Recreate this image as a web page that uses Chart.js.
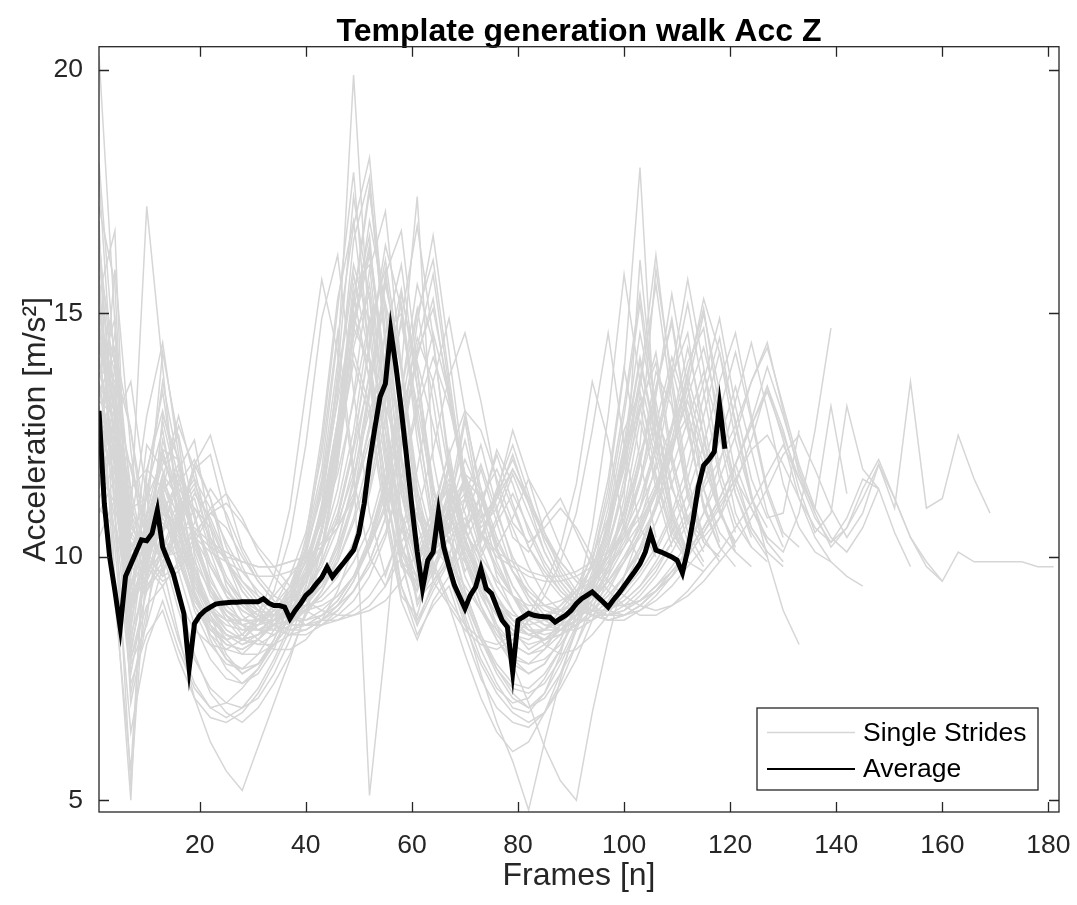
<!DOCTYPE html>
<html>
<head>
<meta charset="utf-8">
<script src="https://cdn.jsdelivr.net/npm/chart.js@4.4.1/dist/chart.umd.min.js"></script>
<style>
  html, body { margin: 0; padding: 0; background: #fff; }
  #wrap { width: 1077px; height: 905px; }
</style>
</head>
<body>
<div id="wrap"><canvas id="accChart" width="1077" height="905"></canvas></div>
<script>
const strideFrames = [1, 4, 7, 10, 13, 16, 19, 22, 25, 28, 31, 34, 37, 40, 43, 46, 49, 52, 55, 58,
  61, 64, 67, 70, 73, 76, 79, 82, 85, 88, 91, 94, 97, 100, 103, 106, 109, 112, 115, 118,
  121, 124, 127, 130, 133, 136, 139, 142, 145, 148, 151, 154, 157, 160, 163, 166, 169, 172, 175, 178, 181];

// single strides, acceleration [m/s²] at strideFrames
const stride01 = [20.3, 14.8, 8.2, 10.6, 12.2, 10.9, 9.6, 8.9, 8.4, 8.2, 8.4, 8.8, 9.2, 9.7, 10.5, 12.0, 14.6, 16.9, 15.2, 12.1, 10.0, 10.8, 12.2, 10.3, 9.5, 9.0, 8.5, 8.1, 8.3, 8.6, 9.0, 9.3, 9.8, 10.5, 11.9, 13.8, 13.1, 11.2, 10.3, 10.0];
const stride02 = [16.5, 13.2, 9.6, 12.3, 11.8, 10.2, 9.1, 8.6, 8.3, 8.4, 8.7, 9.0, 9.4, 10.1, 11.3, 13.5, 15.8, 14.1, 11.9, 10.2, 9.4, 10.9, 11.6, 10.1, 9.4, 8.8, 8.4, 8.3, 8.5, 8.9, 9.3, 9.8, 10.6, 12.2, 14.1, 12.5, 10.8, 10.1];
const stride03 = [13.2, 12.9, 8.9, 9.8, 10.9, 11.6, 10.4, 9.3, 8.7, 8.3, 8.2, 8.4, 8.7, 9.0, 9.4, 10.1, 11.2, 13.3, 15.6, 14.0, 11.3, 9.6, 10.7, 11.5, 10.2, 9.4, 8.9, 8.5, 8.3, 8.4, 8.6, 8.9, 9.2, 9.6, 10.2, 11.1, 12.7, 14.3, 12.8, 11.0, 10.1, 9.8];
const stride04 = [15.8, 11.0, 5.3, 9.9, 12.8, 11.4, 9.8, 8.8, 8.0, 7.6, 7.8, 8.2, 8.8, 9.6, 11.0, 13.8, 17.4, 15.3, 12.0, 9.9, 9.3, 10.4, 10.8, 9.6, 8.9, 8.3, 7.9, 7.8, 8.1, 8.6, 9.2, 10.1, 11.6, 13.9, 12.0, 10.4];
const stride05 = [12.4, 14.6, 11.2, 9.6, 10.5, 11.8, 12.4, 10.6, 9.4, 8.8, 8.5, 8.4, 8.6, 8.9, 9.2, 9.6, 10.3, 11.4, 13.2, 15.4, 13.8, 11.5, 9.8, 10.6, 11.8, 10.7, 9.7, 9.1, 8.7, 8.5, 8.5, 8.7, 9.0, 9.3, 9.7, 10.2, 10.9, 11.9, 13.3, 14.5, 12.7, 11.2, 10.3, 9.9];
const stride06 = [14.1, 12.0, 7.2, 8.9, 10.4, 9.2, 8.0, 7.2, 6.8, 6.6, 6.9, 7.4, 8.0, 8.8, 10.0, 11.9, 14.9, 16.3, 13.6, 10.9, 9.1, 9.8, 10.6, 9.3, 8.4, 7.7, 7.2, 6.9, 7.1, 7.6, 8.2, 8.9, 9.8, 11.0, 12.8, 11.6, 10.4, 9.9, 9.7];
const stride07 = [17.2, 15.6, 8.7, 10.1, 11.3, 10.1, 9.0, 8.4, 8.1, 8.0, 8.3, 8.7, 9.3, 10.2, 11.6, 14.0, 19.9, 14.5, 12.3, 10.8, 9.7, 10.3, 11.4, 10.6, 9.8, 9.2, 8.7, 8.4, 8.3, 8.5, 8.8, 9.2, 9.7, 10.3, 11.0, 12.4, 13.9, 12.6, 11.1, 10.2, 9.8];
const stride08 = [13.6, 11.8, 7.8, 8.6, 9.8, 8.4, 7.1, 6.2, 5.6, 5.2, 6.1, 7.0, 7.9, 8.9, 10.2, 12.1, 14.2, 13.1, 11.0, 9.4, 8.6, 9.5, 10.1, 9.2, 8.3, 7.6, 7.1, 6.9, 7.2, 7.8, 8.5, 9.3, 10.4, 12.0, 13.1, 11.4, 10.2];
const stride09 = [11.8, 13.9, 12.6, 10.1, 9.6, 10.8, 11.9, 11.2, 9.9, 9.1, 8.7, 8.5, 8.4, 8.5, 8.7, 9.0, 9.5, 10.3, 11.5, 13.4, 15.1, 13.2, 11.0, 9.7, 10.4, 11.3, 10.6, 9.8, 9.2, 8.9, 8.7, 8.7, 8.9, 9.2, 9.6, 10.1, 10.8, 11.6, 12.9, 14.2, 12.8, 11.3, 10.0, 8.9, 8.2];
const stride10 = [15.1, 13.0, 9.3, 11.4, 12.6, 10.7, 9.4, 8.7, 8.4, 8.3, 8.6, 9.0, 9.6, 10.5, 12.1, 14.6, 11.8, 5.1, 8.2, 11.6, 10.7, 9.5, 9.9, 9.4, 8.9, 8.5, 8.2, 8.0, 8.2, 8.5, 8.9, 9.4, 10.0, 10.9, 12.3, 15.9, 13.7, 11.6, 10.4, 9.9];
const stride11 = [12.9, 12.1, 10.3, 9.4, 9.9, 10.6, 11.3, 10.8, 10.0, 9.3, 8.9, 8.6, 8.4, 8.4, 8.6, 8.9, 9.3, 9.9, 10.8, 12.2, 14.3, 15.8, 13.5, 11.2, 10.1, 10.8, 11.7, 10.9, 10.1, 9.5, 9.1, 8.8, 8.7, 8.8, 9.0, 9.3, 9.6, 10.0, 10.5, 11.1, 11.6, 11.0, 10.4, 10.1, 10.9, 12.6, 14.7];
const stride12 = [14.7, 12.4, 8.1, 9.7, 11.2, 10.0, 8.9, 8.2, 7.8, 7.7, 8.0, 8.5, 9.2, 10.1, 11.4, 13.2, 15.0, 13.7, 11.6, 10.2, 9.6, 10.2, 9.8, 8.7, 7.6, 6.6, 5.8, 4.8, 6.2, 7.5, 8.6, 9.5, 10.8, 12.6, 13.4, 11.7, 10.5, 10.0];
const stride13 = [13.9, 13.5, 10.2, 10.8, 11.9, 12.5, 10.9, 9.6, 8.9, 8.6, 8.5, 8.6, 8.9, 9.3, 9.8, 10.6, 11.9, 13.8, 15.2, 13.9, 17.4, 12.0, 10.3, 9.9, 10.5, 9.8, 9.2, 8.8, 8.6, 8.6, 8.8, 9.1, 9.5, 10.0, 10.6, 11.4, 12.6, 14.0, 14.7, 12.5, 10.9, 10.2, 9.9];
const stride14 = [16.2, 12.7, 8.5, 10.9, 11.1, 9.7, 8.6, 7.9, 7.5, 7.4, 7.7, 8.3, 9.1, 10.4, 12.5, 15.3, 16.9, 14.1, 11.4, 9.8, 9.5, 10.7, 11.9, 10.4, 9.3, 8.5, 7.9, 7.6, 7.8, 8.3, 9.0, 9.9, 11.4, 13.8, 18.0, 12.3];
const stride15 = [12.1, 12.8, 11.4, 9.8, 9.4, 9.9, 10.7, 11.4, 10.9, 10.1, 9.5, 9.1, 8.8, 8.6, 8.6, 8.7, 8.9, 9.2, 9.7, 10.5, 11.8, 13.6, 14.9, 13.0, 11.2, 10.2, 10.8, 11.6, 11.0, 10.2, 9.6, 9.2, 8.9, 8.8, 8.9, 9.1, 9.4, 9.8, 10.2, 10.8, 11.5, 12.4, 13.5, 12.6, 11.4, 10.5, 10.9, 13.1, 11.8, 11.4];
const stride16 = [13.0, 12.2, 10.9, 10.0, 9.6, 9.8, 10.4, 11.0, 11.3, 10.8, 10.1, 9.6, 9.2, 8.9, 8.7, 8.7, 8.8, 9.0, 9.4, 10.0, 10.9, 12.2, 13.7, 14.6, 13.2, 11.5, 10.4, 10.1, 10.8, 11.2, 10.5, 9.8, 9.3, 9.0, 8.8, 8.8, 9.0, 9.3, 9.7, 10.1, 10.6, 11.1, 11.7, 12.3, 11.6, 10.8, 10.3, 10.6, 11.2, 11.9, 11.0, 13.6, 11.0, 11.2, 12.5, 11.6, 10.9];
const stride17 = [12.6, 11.7, 10.6, 10.2, 10.0, 10.1, 10.5, 10.9, 11.1, 10.7, 10.2, 9.8, 9.4, 9.1, 8.9, 8.8, 8.8, 8.9, 9.1, 9.5, 10.1, 11.0, 12.1, 13.0, 12.6, 11.6, 10.7, 10.3, 10.6, 11.0, 10.6, 10.0, 9.5, 9.2, 9.0, 8.9, 9.0, 9.2, 9.5, 9.9, 10.3, 10.8, 11.4, 12.1, 12.5, 11.8, 11.0, 10.4, 10.9, 11.9, 11.2, 10.4, 9.9, 9.5, 10.1, 9.9, 9.9, 9.9, 9.9, 9.8, 9.8];
const stride18 = [14.4, 12.6, 9.8, 9.5, 10.2, 11.0, 11.5, 10.7, 9.9, 9.3, 8.9, 8.6, 8.5, 8.5, 8.7, 9.0, 9.5, 10.2, 11.3, 12.8, 14.5, 13.6, 11.7, 10.5, 10.0, 10.7, 11.3, 10.6, 9.9, 9.4, 9.0, 8.8, 8.7, 8.8, 9.0, 9.3, 9.7, 10.1, 10.6, 11.2, 11.9, 12.8, 13.9, 12.9, 11.8, 10.9, 10.2, 10.6, 11.4, 12.0, 11.2, 10.4, 9.8, 9.5];
const stride19 = [11.5, 12.3, 11.9, 10.6, 9.9, 10.3, 11.0, 10.6, 9.9, 9.4, 9.0, 8.7, 8.6, 8.6, 8.8, 9.1, 9.6, 10.4, 11.6, 13.1, 14.0, 12.7, 11.3, 10.6, 11.2, 11.8, 11.0, 10.2, 9.7, 9.3, 9.0, 8.9, 8.9, 9.1, 9.4, 9.8, 10.3, 10.8, 11.4, 12.0, 12.7, 13.6, 14.3, 13.1, 11.9, 11.0, 10.4, 10.1, 10.6, 11.4, 10.5, 9.8];
const stride20 = [10.9, 11.6, 9.1, 9.9, 10.8, 10.2, 9.4, 8.9, 8.7, 8.7, 8.9, 9.2, 9.6, 10.0, 10.7, 11.7, 13.2, 14.9, 13.4, 11.5, 10.3, 10.9, 11.4, 10.3, 9.6, 9.1, 8.8, 8.7, 8.8, 9.0, 9.3, 9.6, 10.0, 10.5, 11.2, 12.3, 13.7, 14.6, 12.4, 11.0];
const stride21 = [16.9, 9.4, 5.0, 11.7, 13.4, 11.1, 9.3, 8.3, 7.7, 7.4, 7.6, 8.1, 8.9, 10.2, 12.3, 15.1, 17.9, 14.0, 11.0, 9.2, 8.8, 10.0, 10.4, 9.0, 8.1, 7.4, 6.9, 6.8, 7.2, 8.0, 9.1, 10.6, 12.9, 15.8, 13.6];
const stride22 = [13.4, 14.1, 10.4, 11.2, 13.6, 11.9, 10.1, 9.2, 8.8, 8.6, 8.7, 8.9, 9.2, 9.6, 10.1, 10.9, 12.3, 14.4, 16.1, 13.8, 11.4, 10.0, 11.1, 12.4, 11.0, 9.9, 9.2, 8.7, 8.5, 8.5, 8.7, 9.0, 9.4, 9.9, 10.5, 11.3, 12.4, 13.8, 15.1, 13.0, 11.3, 10.4];
const stride23 = [12.2, 10.8, 7.9, 9.0, 9.4, 8.3, 7.4, 6.9, 6.7, 6.9, 7.3, 7.9, 8.6, 9.4, 10.5, 12.2, 14.0, 12.9, 10.8, 9.1, 8.3, 9.1, 9.6, 8.6, 7.8, 7.2, 6.8, 6.6, 6.8, 7.3, 7.9, 8.7, 9.6, 10.7, 12.1, 13.2, 11.5, 10.3, 9.8];
const stride24 = [14.9, 13.8, 11.0, 10.3, 11.4, 12.7, 11.8, 10.4, 9.6, 9.1, 8.8, 8.6, 8.5, 8.6, 8.8, 9.1, 9.6, 10.3, 11.4, 13.0, 15.0, 16.1, 13.7, 11.4, 10.3, 11.2, 12.1, 11.1, 10.1, 9.5, 9.1, 8.9, 8.8, 8.9, 9.1, 9.4, 9.8, 10.3, 10.9, 11.6, 12.5, 13.6, 14.4, 13.0, 11.7, 10.9];
const stride25 = [14.3, 13.0, 10.8, 17.2, 13.9, 10.6, 9.2, 8.5, 8.2, 8.1, 8.3, 8.6, 9.0, 9.6, 10.6, 12.3, 14.8, 16.4, 13.9, 11.3, 9.9, 10.4, 11.8, 10.9, 9.9, 9.2, 8.7, 8.4, 8.3, 8.4, 8.6, 8.9, 9.3, 9.9, 10.7, 11.9, 13.6, 15.2, 13.4, 11.6, 10.5];
const stride26 = [15.4, 16.7, 8.4, 9.5, 10.9, 10.3, 9.3, 8.6, 8.2, 8.1, 8.3, 8.7, 9.2, 9.9, 11.0, 12.8, 15.3, 17.6, 14.4, 11.6, 10.0, 10.5, 11.2, 10.0, 9.2, 8.6, 8.2, 8.0, 8.1, 8.4, 8.9, 9.5, 10.3, 11.4, 13.0, 14.2, 12.1, 10.7];
const stride27 = [12.8, 12.0, 9.4, 10.4, 11.3, 11.9, 10.5, 9.4, 8.8, 8.4, 8.2, 8.2, 8.4, 8.8, 9.3, 10.0, 11.1, 12.7, 14.6, 16.0, 13.5, 11.0, 9.6, 10.2, 9.5, 8.6, 7.8, 7.0, 6.1, 5.4, 5.0, 6.8, 8.3, 9.6, 10.5, 11.3, 12.2, 13.3, 14.3, 12.9, 11.5, 10.6, 10.1, 9.8];
const stride28 = [13.7, 14.9, 9.9, 10.2, 12.4, 11.2, 9.8, 9.0, 8.5, 8.3, 8.4, 8.8, 9.4, 10.3, 11.8, 14.5, 16.8, 18.2, 14.6, 11.5, 9.7, 10.1, 11.0, 10.0, 9.3, 8.8, 8.4, 8.2, 8.3, 8.6, 9.0, 9.5, 10.1, 10.9, 12.0, 13.4, 14.9, 12.8, 11.0, 10.2];
const stride29 = [11.2, 11.9, 10.7, 9.9, 9.5, 9.7, 10.3, 10.9, 10.6, 10.0, 9.5, 9.1, 8.8, 8.6, 8.6, 8.8, 9.1, 9.6, 10.4, 11.6, 13.0, 14.1, 13.1, 11.7, 10.7, 11.3, 12.0, 11.2, 10.4, 9.8, 9.3, 9.0, 8.8, 8.8, 9.0, 9.3, 9.7, 10.1, 10.6, 11.2, 11.9, 12.7, 13.5, 12.4, 11.2, 10.4, 9.9, 9.6, 9.4];
const stride30 = [12.0, 15.9, 12.2, 9.7, 10.1, 10.9, 11.4, 10.3, 9.5, 9.0, 8.7, 8.6, 8.7, 9.0, 9.5, 10.3, 11.6, 13.5, 15.7, 13.9, 11.6, 10.3, 10.9, 12.0, 11.2, 10.1, 9.4, 8.9, 8.6, 8.5, 8.7, 9.1, 9.8, 11.2, 16.1, 12.8, 11.4, 10.7, 10.4, 10.8, 11.9, 11.0, 10.3];
const stride31 = [11.4, 12.8, 13.6, 11.2, 9.7, 10.6, 11.8, 12.1, 10.8, 9.8, 9.2, 8.9, 8.7, 8.7, 8.9, 9.2, 9.6, 10.2, 11.0, 12.3, 14.1, 15.3, 13.2, 11.4, 10.4, 11.4, 12.3, 11.3, 10.3, 9.6, 9.2, 8.9, 8.8, 8.9, 9.2, 9.6, 10.1, 10.7, 11.5, 12.4, 13.5, 12.2, 10.9, 10.2];
const stride32 = [15.5, 10.8, 8.8, 11.5, 10.3, 9.1, 8.5, 8.2, 8.1, 8.3, 8.7, 9.3, 10.4, 12.3, 14.9, 16.2, 13.4, 10.9, 9.6, 10.6, 11.0, 9.8, 9.0, 8.5, 8.2, 8.1, 8.3, 8.7, 9.2, 9.9, 10.9, 12.6, 14.6, 12.3, 10.6, 10.0];
const stride33 = [12.9, 11.3, 9.9, 10.5, 11.7, 11.2, 10.5, 10.2, 10.0, 9.9, 9.8, 9.8, 9.9, 10.0, 10.2, 10.6, 11.3, 12.6, 14.0, 12.8, 11.0, 10.1, 10.5, 10.8, 10.0, 9.5, 9.2, 9.0, 9.0, 9.1, 9.3, 9.5, 9.8, 10.2, 10.7, 11.4, 12.3, 13.2, 12.1, 10.9, 10.3];
const stride34 = [13.1, 10.2, 6.4, 8.2, 9.1, 8.1, 7.3, 6.9, 7.0, 7.3, 7.7, 8.2, 8.8, 9.5, 10.6, 12.5, 15.1, 16.6, 13.1, 10.0, 8.6, 9.3, 9.9, 8.8, 7.9, 7.3, 7.0, 7.1, 7.5, 8.1, 8.8, 9.6, 10.7, 12.3, 14.6, 12.9, 10.9, 10.0];
const stride35 = [18.1, 13.9, 7.6, 9.4, 12.9, 12.0, 10.3, 9.3, 8.8, 8.5, 8.5, 8.7, 9.0, 9.5, 10.2, 11.4, 13.3, 15.9, 17.1, 13.9, 11.0, 9.6, 10.9, 12.8, 10.9, 9.6, 8.9, 8.5, 8.4, 8.5, 8.8, 9.2, 9.7, 10.4, 11.5, 13.3, 15.4, 13.5, 11.4, 10.3];
const stride36 = [12.6, 13.3, 11.8, 10.4, 10.0, 10.7, 11.9, 12.5, 11.3, 10.2, 9.6, 9.2, 9.0, 9.0, 9.1, 9.4, 9.9, 10.6, 11.8, 13.4, 15.6, 14.4, 12.0, 10.6, 11.0, 12.2, 11.5, 10.5, 9.8, 9.3, 9.0, 8.9, 8.9, 9.1, 9.4, 9.9, 10.5, 11.3, 12.3, 13.6, 14.6, 12.9, 11.4, 10.5, 10.2];
const stride37 = [14.0, 12.2, 8.6, 10.3, 12.1, 11.0, 9.7, 8.9, 8.5, 8.3, 8.4, 8.6, 9.0, 9.7, 10.8, 12.6, 15.2, 17.5, 15.0, 11.9, 9.9, 10.6, 11.9, 10.6, 9.6, 9.0, 8.6, 8.4, 8.5, 8.8, 9.2, 9.8, 10.6, 11.8, 13.5, 15.6, 13.2, 11.3, 10.3];
const stride38 = [11.0, 10.6, 9.5, 10.1, 10.9, 10.6, 10.6, 10.3, 10.1, 9.9, 9.8, 9.8, 9.9, 10.0, 10.2, 10.6, 11.2, 12.4, 13.1, 12.0, 10.8, 10.3, 10.8, 11.2, 10.5, 10.1, 9.9, 9.7, 9.6, 9.6, 9.7, 9.9, 10.1, 10.4, 10.8, 11.5, 12.3, 12.9, 11.9, 10.9];
const stride39 = [14.9, 9.1, 5.6, 10.8, 14.2, 12.4, 10.0, 8.6, 7.9, 7.6, 7.8, 8.3, 9.0, 10.0, 11.5, 13.6, 16.0, 14.8, 12.2, 10.1, 9.3, 10.2, 11.3, 10.0, 9.0, 8.3, 7.8, 7.6, 7.8, 8.3, 9.0, 9.9, 11.2, 13.1, 15.4, 13.0, 11.0, 10.1];
const stride40 = [16.0, 14.2, 10.6, 12.9, 14.4, 12.1, 10.4, 9.5, 9.0, 8.7, 8.6, 8.7, 8.9, 9.3, 9.9, 10.8, 12.3, 14.3, 16.4, 15.1, 12.4, 10.5, 11.2, 12.9, 11.4, 10.2, 9.4, 8.9, 8.7, 8.7, 8.9, 9.2, 9.6, 10.2, 11.0, 12.2, 13.8, 15.7, 13.9, 11.8, 10.7, 10.2];
const stride41 = [12.3, 12.0, 10.5, 10.0, 10.6, 11.5, 12.0, 11.2, 10.2, 9.5, 9.1, 8.8, 8.6, 8.6, 8.7, 8.9, 9.3, 9.9, 10.8, 12.4, 14.8, 16.6, 14.2, 11.6, 10.4, 11.3, 12.6, 11.6, 10.5, 9.7, 9.2, 8.9, 8.7, 8.7, 8.9, 9.2, 9.6, 10.2, 10.9, 11.9, 13.2, 14.4, 13.0, 11.5, 10.6, 10.1, 9.9];
const stride42 = [13.5, 11.5, 7.9, 9.3, 10.1, 8.9, 7.9, 7.3, 7.0, 6.9, 7.1, 7.6, 8.3, 9.2, 10.5, 12.6, 14.7, 14.0, 11.5, 9.4, 8.4, 9.0, 9.4, 8.4, 7.5, 6.9, 6.6, 6.5, 6.8, 7.4, 8.2, 9.1, 10.2, 11.6, 13.3, 12.0, 10.6, 9.9];
const stride43 = [15.0, 13.4, 9.4, 10.0, 11.0, 10.4, 9.5, 8.9, 8.6, 8.5, 8.6, 8.9, 9.3, 9.9, 10.9, 12.7, 15.4, 13.6, 11.2, 9.9, 9.6, 10.5, 11.1, 10.2, 9.5, 9.0, 8.7, 8.6, 8.7, 9.0, 9.4, 10.0, 10.8, 12.0, 13.6, 16.2, 13.5, 11.4, 10.4];
const stride44 = [12.5, 12.7, 11.0, 11.2, 12.0, 11.3, 10.4, 9.8, 9.3, 9.0, 8.8, 8.8, 8.9, 9.1, 9.4, 9.9, 10.7, 11.8, 13.3, 14.8, 13.1, 11.3, 10.6, 11.6, 11.2, 10.3, 9.7, 9.3, 9.0, 8.9, 9.0, 9.2, 9.5, 9.9, 10.4, 11.0, 11.8, 12.8, 13.8, 12.6, 11.3, 10.5, 10.0];
const stride45 = [17.8, 12.8, 7.0, 8.7, 11.3, 10.5, 9.2, 8.4, 7.9, 7.7, 7.8, 8.2, 8.8, 9.7, 11.1, 13.3, 16.5, 17.8, 14.3, 10.8, 9.0, 9.7, 10.4, 9.3, 8.4, 7.8, 7.4, 7.3, 7.6, 8.1, 8.8, 9.7, 11.0, 12.9, 15.2, 12.6, 10.7, 9.9];
const stride46 = [13.3, 14.3, 12.6, 10.6, 11.6, 12.9, 11.6, 10.2, 9.5, 9.1, 8.9, 8.8, 8.8, 8.9, 9.2, 9.6, 10.3, 11.3, 12.8, 14.9, 16.8, 14.5, 11.8, 10.3, 11.0, 12.1, 11.1, 10.2, 9.6, 9.2, 8.9, 8.8, 8.8, 9.0, 9.3, 9.7, 10.3, 11.0, 11.9, 13.0, 14.2, 12.8, 11.3, 10.4];
const stride47 = [11.7, 11.1, 9.0, 9.6, 10.4, 9.9, 9.2, 8.7, 8.4, 8.3, 8.4, 8.6, 8.9, 9.3, 9.9, 10.8, 12.2, 13.7, 12.6, 10.9, 9.9, 10.4, 10.9, 10.0, 9.3, 8.8, 8.5, 8.4, 8.5, 8.7, 9.0, 9.4, 9.9, 10.6, 11.6, 12.9, 12.0, 10.8, 10.1];
const stride48 = [14.6, 12.5, 9.0, 11.8, 11.4, 9.9, 9.0, 8.5, 8.3, 8.4, 8.8, 9.6, 11.0, 13.4, 15.7, 14.2, 11.6, 10.0, 9.4, 10.3, 10.9, 9.9, 9.1, 8.6, 8.3, 8.2, 8.4, 8.8, 9.4, 10.2, 11.5, 13.6, 12.4, 10.6, 9.9];
const stride49 = [13.8, 12.6, 9.7, 10.7, 11.6, 10.8, 9.9, 9.3, 8.9, 8.7, 8.7, 8.8, 9.1, 9.5, 10.1, 11.1, 12.6, 14.8, 15.9, 13.3, 11.1, 10.2, 11.0, 11.6, 10.5, 9.7, 9.2, 8.9, 8.8, 8.9, 9.1, 9.5, 10.0, 10.6, 11.5, 12.7, 14.1, 13.0, 11.4, 10.5, 10.1];
const stride50 = [12.2, 11.8, 10.4, 10.1, 10.5, 11.1, 11.6, 11.0, 10.3, 9.7, 9.3, 9.0, 8.8, 8.7, 8.8, 9.0, 9.3, 9.8, 10.5, 11.6, 13.2, 14.6, 13.3, 11.6, 10.6, 11.0, 11.8, 11.2, 10.5, 9.9, 9.5, 9.2, 9.0, 9.0, 9.1, 9.4, 9.7, 10.1, 10.6, 11.2, 11.9, 12.7, 13.4, 12.5, 11.6, 11.0, 13.1, 11.3];
const stride51 = [13.5, 13.0, 10.0, 10.5, 11.4, 11.7, 10.8, 9.9, 9.3, 8.9, 8.7, 8.6, 8.7, 8.9, 9.3, 9.9, 10.8, 12.1, 14.0, 15.5, 13.5, 11.4, 10.3, 11.0, 11.9, 10.9, 10.0, 9.4, 9.0, 8.8, 8.8, 8.9, 9.2, 9.6, 10.1, 10.7, 11.5, 12.4, 13.6, 14.9, 13.1, 11.6, 10.8, 10.9, 12.6];
const stride52 = [12.7, 10.5, 7.4, 8.4, 8.9, 7.9, 7.1, 6.7, 6.6, 6.8, 7.2, 7.8, 8.5, 9.4, 10.6, 12.4, 14.5, 15.4, 12.6, 9.9, 8.7, 9.4, 10.0, 9.1, 8.3, 7.7, 7.3, 7.2, 7.4, 7.9, 8.6, 9.5, 10.6, 12.1, 14.0, 12.4, 10.8, 10.0];
const stride53 = [15.3, 14.0, 11.4, 11.8, 13.0, 11.6, 10.2, 9.4, 8.9, 8.6, 8.5, 8.5, 8.7, 9.0, 9.5, 10.3, 11.5, 13.4, 15.8, 16.7, 13.9, 11.2, 10.0, 11.2, 12.3, 11.0, 9.9, 9.2, 8.8, 8.6, 8.6, 8.8, 9.1, 9.6, 10.2, 11.0, 12.1, 13.5, 15.0, 13.4, 11.7, 10.6, 10.1];
const stride54 = [12.0, 13.1, 10.9, 9.3, 9.8, 10.9, 11.2, 10.1, 9.2, 8.6, 8.3, 8.1, 8.1, 8.3, 8.7, 9.3, 10.2, 11.6, 13.7, 15.2, 12.9, 10.6, 9.7, 10.5, 11.3, 10.2, 9.2, 8.6, 8.2, 8.0, 8.1, 8.4, 8.8, 9.4, 10.1, 11.0, 12.2, 13.7, 12.5, 11.0, 10.2];
const stride55 = [14.2, 13.6, 9.2, 9.9, 11.1, 10.5, 9.6, 9.0, 8.7, 8.6, 8.7, 8.9, 9.3, 9.9, 10.8, 12.3, 14.7, 16.2, 13.8, 11.3, 9.9, 10.8, 11.5, 10.4, 9.6, 9.1, 8.7, 8.5, 8.5, 8.7, 9.0, 9.4, 10.0, 10.8, 11.9, 13.5, 14.8, 12.7, 11.0, 10.2];
const stride56 = [16.6, 11.9, 8.0, 10.0, 11.6, 10.8, 9.6, 8.8, 8.3, 8.0, 8.0, 8.2, 8.6, 9.2, 10.2, 11.9, 14.3, 15.6, 13.0, 10.6, 9.5, 10.3, 11.0, 9.9, 9.0, 8.4, 8.0, 7.8, 7.9, 8.2, 8.7, 9.3, 10.2, 11.4, 13.1, 14.0, 11.9, 10.5, 9.9];
const stride57 = [13.0, 12.4, 10.1, 10.9, 12.2, 12.0, 10.8, 9.8, 9.2, 8.9, 8.7, 8.7, 8.8, 9.1, 9.5, 10.2, 11.2, 12.7, 14.6, 15.0, 12.7, 10.8, 10.5, 11.7, 11.4, 10.4, 9.7, 9.2, 8.9, 8.8, 8.9, 9.1, 9.5, 10.0, 10.6, 11.4, 12.4, 13.7, 15.3, 14.2, 12.4, 11.2, 10.6];
const stride58 = [10.4, 11.2, 10.0, 10.3, 10.7, 10.3, 10.4, 10.1, 9.9, 9.7, 9.6, 9.6, 9.7, 9.9, 10.3, 10.7, 11.7, 13.0, 13.9, 12.6, 11.1, 10.4, 10.9, 11.3, 10.5, 10.0, 9.8, 9.6, 9.5, 9.5, 9.6, 9.8, 10.0, 10.4, 11.0, 11.8, 12.7, 13.5, 12.2, 10.9, 10.3];
const stride59 = [12.8, 11.9, 10.2, 10.4, 11.0, 11.4, 11.0, 10.4, 9.9, 9.5, 9.2, 9.0, 8.9, 8.9, 9.0, 9.2, 9.6, 10.2, 11.1, 12.5, 14.2, 15.1, 13.4, 11.7, 10.8, 11.2, 11.8, 11.1, 10.4, 9.9, 9.5, 9.2, 9.0, 9.0, 9.1, 9.3, 9.6, 10.0, 10.5, 11.0, 11.6, 12.2, 12.5, 11.9, 11.2, 10.6, 10.3, 10.8, 11.6, 11.4];
const stride60 = [14.8, 12.9, 8.9, 10.2, 11.5, 10.6, 9.5, 8.8, 8.4, 8.2, 8.3, 8.6, 9.1, 9.8, 10.9, 12.8, 15.6, 16.0, 12.9, 10.3, 9.1, 9.5, 9.0, 8.0, 7.1, 6.4, 6.0, 6.2, 6.8, 7.6, 8.5, 9.4, 10.5, 11.9, 13.7, 12.2, 10.8, 10.1];

const strides = [stride01, stride02, stride03, stride04, stride05, stride06, stride07, stride08, stride09, stride10,
  stride11, stride12, stride13, stride14, stride15, stride16, stride17, stride18, stride19, stride20,
  stride21, stride22, stride23, stride24, stride25, stride26, stride27, stride28, stride29, stride30,
  stride31, stride32, stride33, stride34, stride35, stride36, stride37, stride38, stride39, stride40,
  stride41, stride42, stride43, stride44, stride45, stride46, stride47, stride48, stride49, stride50,
  stride51, stride52, stride53, stride54, stride55, stride56, stride57, stride58, stride59, stride60];

// average template, one value per frame 1..119
const averageValues = [13.0, 11.1, 10.0, 9.3, 8.55, 9.6, 9.85, 10.1, 10.35, 10.33,
  10.48, 10.96, 10.2, 9.93, 9.66, 9.25, 8.84, 7.71, 8.63, 8.8,
  8.9, 8.97, 9.03, 9.05, 9.06, 9.07, 9.07, 9.08, 9.08, 9.08,
  9.08, 9.14, 9.05, 9.0, 9.0, 8.97, 8.73, 8.9, 9.04, 9.21,
  9.31, 9.45, 9.58, 9.79, 9.59, 9.73, 9.86, 10.0, 10.14, 10.48,
  11.1, 11.95, 12.64, 13.29, 13.56, 14.66, 13.9, 13.01, 12.05, 11.03,
  10.1, 9.35, 9.93, 10.1, 10.92, 10.2, 9.79, 9.42, 9.18, 8.94,
  9.21, 9.38, 9.76, 9.35, 9.25, 8.97, 8.7, 8.56, 7.63, 8.7,
  8.77, 8.84, 8.8, 8.78, 8.77, 8.76, 8.66, 8.73, 8.8, 8.9,
  9.04, 9.14, 9.21, 9.28, 9.18, 9.08, 8.97, 9.12, 9.25, 9.4,
  9.55, 9.7, 9.86, 10.1, 10.48, 10.14, 10.1, 10.05, 10.0, 9.93,
  9.67, 10.14, 10.75, 11.44, 11.88, 12.0, 12.16, 13.12, 12.22];

const xTickValues = [20, 40, 60, 80, 100, 120, 140, 160, 180];
const yTickValues = [5, 10, 15, 20];

const GREY = 'rgb(214,214,214)';
const AXIS = '#262626';
const FONT = "'Liberation Sans', Arial, sans-serif";

const datasets = [{
  label: 'Average',
  data: averageValues.map((v, i) => ({ x: i + 1, y: v })),
  borderColor: '#000',
  borderWidth: 5,
  pointRadius: 0,
  tension: 0,
  order: 0
}];
strides.forEach(vals => {
  datasets.push({
    label: 'Single Strides',
    data: vals.map((v, i) => ({ x: strideFrames[i], y: v })),
    borderColor: GREY,
    borderWidth: 1.5,
    pointRadius: 0,
    tension: 0,
    order: 1
  });
});

// MATLAB style box with inward ticks plus the legend in the lower right corner
const matlabAxes = {
  id: 'matlabAxes',
  afterDraw(chart) {
    const { ctx, chartArea: a, scales } = chart;
    const tl = 10;
    ctx.save();
    ctx.strokeStyle = AXIS;
    ctx.lineWidth = 1.3;
    ctx.beginPath();
    xTickValues.forEach(v => {
      const px = Math.round(scales.x.getPixelForValue(v)) + 0.5;
      ctx.moveTo(px, a.bottom); ctx.lineTo(px, a.bottom - tl);
      ctx.moveTo(px, a.top); ctx.lineTo(px, a.top + tl);
    });
    yTickValues.forEach(v => {
      const py = Math.round(scales.y.getPixelForValue(v)) + 0.5;
      ctx.moveTo(a.left, py); ctx.lineTo(a.left + tl, py);
      ctx.moveTo(a.right, py); ctx.lineTo(a.right - tl, py);
    });
    ctx.stroke();
    ctx.strokeRect(a.left, a.top, a.right - a.left, a.bottom - a.top);

    // legend
    const grey = chart.data.datasets[1];
    const avg = chart.data.datasets[0];
    const w = 281, h = 82;
    const lx = a.right - 21 - w, ly = a.bottom - 22 - h;
    ctx.fillStyle = '#fff';
    ctx.fillRect(lx, ly, w, h);
    ctx.strokeStyle = AXIS;
    ctx.lineWidth = 1.3;
    ctx.strokeRect(lx, ly, w, h);
    const rows = [[grey, ly + 24.5, 1.5], [avg, ly + 61, 2]];
    ctx.font = '26.5px ' + FONT;
    ctx.textBaseline = 'middle';
    rows.forEach(([ds, y, lw]) => {
      ctx.strokeStyle = ds.borderColor;
      ctx.lineWidth = lw;
      ctx.beginPath();
      ctx.moveTo(lx + 10, y); ctx.lineTo(lx + 98, y);
      ctx.stroke();
      ctx.fillStyle = '#000';
      ctx.fillText(ds.label, lx + 106, y + 1);
    });
    ctx.restore();
  }
};

new Chart(document.getElementById('accChart'), {
  type: 'line',
  data: { datasets: datasets },
  options: {
    responsive: false,
    animation: false,
    events: [],
    layout: { padding: { left: 0, right: 18, top: 0, bottom: 0 } },
    plugins: {
      legend: { display: false },
      tooltip: { enabled: false },
      title: {
        display: true,
        text: 'Template generation walk Acc Z',
        fullSize: false,
        color: '#000',
        font: { family: FONT, size: 32, weight: 'bold' },
        padding: { top: 12.5, bottom: -4.2 }
      }
    },
    scales: {
      x: {
        type: 'linear',
        min: 1,
        max: 182,
        grid: { display: false, drawTicks: false },
        border: { display: false },
        afterBuildTicks: s => { s.ticks = xTickValues.map(v => ({ value: v })); },
        afterFit: s => { s.height = 93; s.paddingLeft = 0; s.paddingRight = 0; },
        ticks: { color: AXIS, font: { family: FONT, size: 26.5 }, padding: 18, maxRotation: 0, autoSkip: false },
        title: { display: true, text: 'Frames [n]', color: AXIS, font: { family: FONT, size: 32 }, padding: { top: 0, bottom: 10 } }
      },
      y: {
        type: 'linear',
        min: 4.76,
        max: 20.48,
        grid: { display: false, drawTicks: false },
        border: { display: false },
        afterBuildTicks: s => { s.ticks = yTickValues.map(v => ({ value: v })); },
        afterFit: s => { s.width = 99; },
        ticks: { color: AXIS, font: { family: FONT, size: 26.5 }, padding: 16, autoSkip: false },
        title: { display: true, text: 'Acceleration [m/s²]', color: AXIS, font: { family: FONT, size: 32 }, padding: { top: 16.5, bottom: 0 } }
      }
    }
  },
  plugins: [matlabAxes]
});
</script>
</body>
</html>
